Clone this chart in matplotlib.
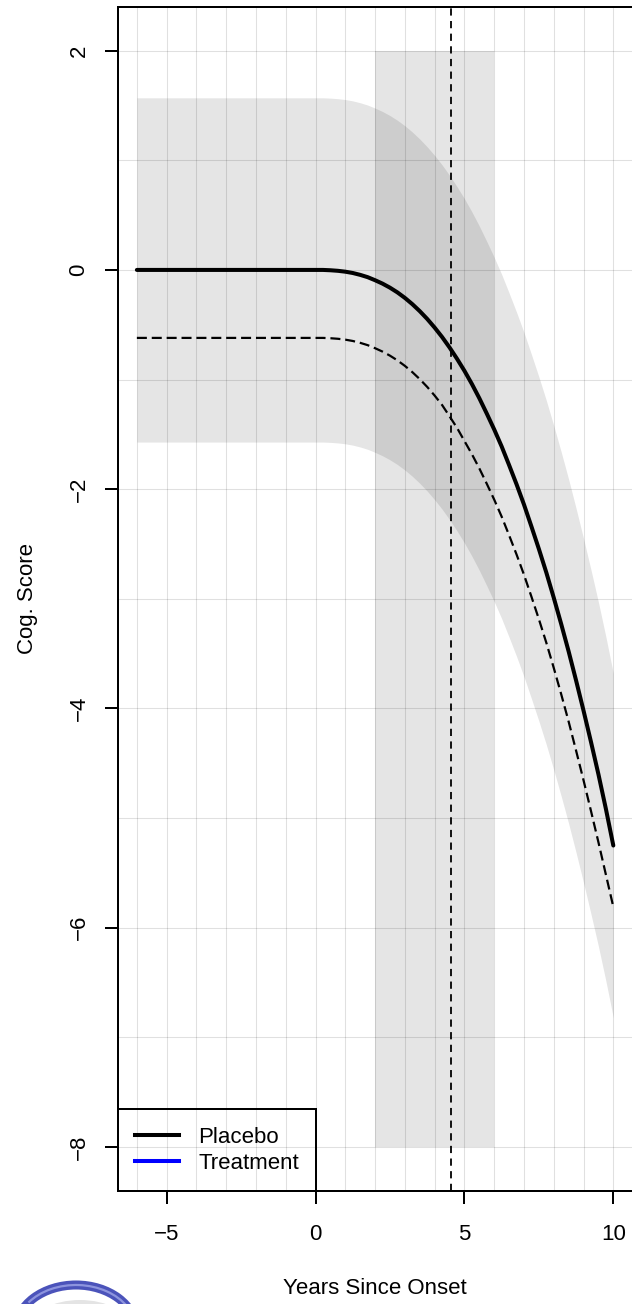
import matplotlib
matplotlib.use("Agg")
import matplotlib.pyplot as plt
import numpy as np
from matplotlib.lines import Line2D
from matplotlib.patches import Arc, Ellipse
from matplotlib.transforms import IdentityTransform

# --- data -------------------------------------------------------------
years = [-6, -5, -4, -3, -2, -1,
         0, 0.25, 0.5, 0.75, 1, 1.25, 1.5, 1.75, 2, 2.25, 2.5, 2.75,
         3, 3.25, 3.5, 3.75, 4, 4.25, 4.5, 4.75, 5, 5.25, 5.5, 5.75,
         6, 6.25, 6.5, 6.75, 7, 7.25, 7.5, 7.75, 8, 8.25, 8.5, 8.75,
         9, 9.25, 9.5, 9.75, 10]
placebo = [0, 0, 0, 0, 0, 0,
           0, 0, -0.003, -0.008, -0.016, -0.028, -0.045, -0.066, -0.094,
           -0.125, -0.162, -0.205, -0.255, -0.312, -0.376, -0.447, -0.526,
           -0.612, -0.707, -0.81, -0.92, -1.04, -1.17, -1.31, -1.455, -1.61,
           -1.78, -1.955, -2.14, -2.34, -2.545, -2.76, -2.99, -3.23, -3.48,
           -3.745, -4.02, -4.305, -4.60, -4.915, -5.25]
treatment = [-0.62, -0.62, -0.62, -0.62, -0.62, -0.62,
             -0.62, -0.62, -0.623, -0.628, -0.636, -0.648, -0.665, -0.686,
             -0.714, -0.745, -0.782, -0.825, -0.875, -0.932, -0.996, -1.067,
             -1.146, -1.232, -1.335, -1.44, -1.56, -1.68, -1.81, -1.95,
             -2.095, -2.25, -2.42, -2.595, -2.78, -2.98, -3.185, -3.40,
             -3.63, -3.87, -4.12, -4.385, -4.655, -4.935, -5.22, -5.515,
             -5.81]
band_halfwidth = 1.57

window_years = [2, 6]
window_scores = [-8, 2]
marker_year = 4.55

x_ticks = [-5, 0, 5, 10]
x_tick_labels = ["\u22125", "0", "5", "10"]
y_ticks = [2, 0, -2, -4, -6, -8]
y_tick_labels = ["2", "0", "\u22122", "\u22124", "\u22126", "\u22128"]
legend_labels = ["Placebo", "Treatment"]
legend_colors = ["black", "blue"]

# --- figure -----------------------------------------------------------
plt.rcParams["font.family"] = ["Liberation Sans", "DejaVu Sans"]
FS = 16

fig = plt.figure(figsize=(6.32, 13.04), dpi=100)
ax = fig.add_axes([0.1864, 0.08673, 0.8142, 0.90806])
ax.set_xlim(-6.64, 10.64)
ax.set_ylim(-8.4, 2.4)

yrs = np.array(years)
plc = np.array(placebo)
trt = np.array(treatment)

shade = (0, 0, 0, 0.1)
# study window
ax.fill_between(window_years, window_scores[0], window_scores[1],
                color=shade, lw=0, zorder=1)
# uncertainty band around the placebo trajectory
ax.fill_between(yrs, plc - band_halfwidth, plc + band_halfwidth,
                color=shade, lw=0, zorder=1)

# reference grid
grid_col = (0, 0, 0, 0.12)
for gx in np.arange(-6, 11):
    ax.axvline(gx, color=grid_col, lw=0.75, zorder=1.5)
for gy in np.arange(-8, 3):
    ax.axhline(gy, color=grid_col, lw=0.75, zorder=1.5)

ax.axvline(marker_year, color="black", lw=1.3, ls=(0, (4, 3)), zorder=2)

ax.plot(yrs, trt, color="black", lw=1.6, ls=(0, (4.5, 2.2)), zorder=3)
ax.plot(yrs, plc, color="black", lw=2.9, solid_capstyle="round",
        solid_joinstyle="round", zorder=3)

# axes styling
for side in ["left", "bottom", "top"]:
    ax.spines[side].set_linewidth(1.44)
ax.spines["right"].set_visible(False)

ax.set_xticks(x_ticks)
ax.set_xticklabels(x_tick_labels, fontsize=FS)
ax.set_yticks(y_ticks)
ax.set_yticklabels(y_tick_labels, fontsize=FS, rotation=90, va="center")
ax.tick_params(axis="both", direction="out", length=9.4, width=1.44)
ax.tick_params(axis="x", pad=14.4)
ax.tick_params(axis="y", pad=11)

ax.set_xlabel("Years Since Onset", fontsize=FS)
ax.xaxis.set_label_coords(0.5, -0.0733)
ax.set_ylabel("Cog. Score", fontsize=FS)
ax.yaxis.set_label_coords(-0.1557, 0.5)

handles = [Line2D([], [], color=c, lw=2.9) for c in legend_colors]
leg = ax.legend(handles, legend_labels, loc="lower left", fontsize=FS,
                borderaxespad=0, borderpad=0.77, labelspacing=0.234,
                handlelength=2.0, handletextpad=0.86, fancybox=False,
                facecolor="none", edgecolor="black", framealpha=1)
leg.get_frame().set_linewidth(1.44)
leg.set_zorder(5)

# small emblem in the lower-left corner
ident = IdentityTransform()
fig.add_artist(Ellipse((80, -24), 100, 56, transform=ident,
                       facecolor="#e4e4e4", edgecolor="none"))
fig.add_artist(Arc((76, -26), 120, 90, theta1=0, theta2=180,
                   transform=ident, color="#4b53ba", lw=6.5))
fig.add_artist(Arc((76, -26), 120, 90, theta1=25, theta2=150,
                   transform=ident, color="#8d94de", lw=1.6))

fig.savefig("out.png", dpi=100)
